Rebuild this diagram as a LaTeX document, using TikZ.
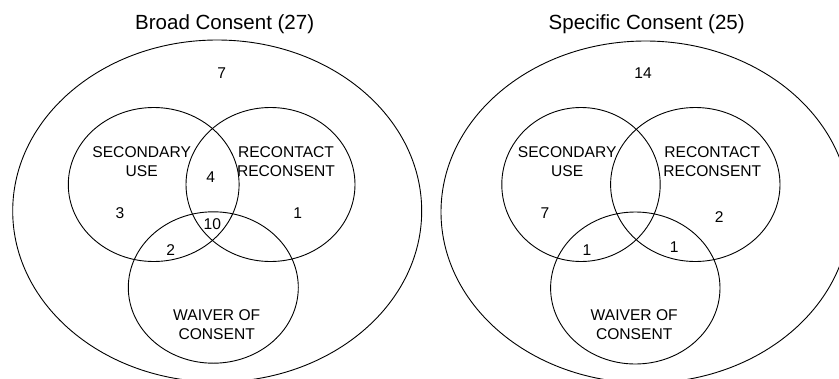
\documentclass[tikz,border=0pt]{standalone}
\usepackage{fontspec}
\setmainfont{Liberation Sans}
\usetikzlibrary{positioning, calc}

\begin{document}
\begin{tikzpicture}[x=1pt, y=-1pt, line width=0.9pt,
            title/.style={font=\fontsize{20.5}{24}\selectfont, anchor=base},
            setlabel/.style={font=\fontsize{15.6}{18.3}\selectfont, align=center, inner sep=0pt},
            count/.style={font=\fontsize{15.6}{18.3}\selectfont, inner sep=0pt}]

            \clip (0,0) rectangle (839,378);

            % broad consent
            \node[title] (tBroad) at (224.7,29.3) {Broad Consent (27)};
            \draw (217.2,211) ellipse [x radius=204.5pt, y radius=171pt];
            \draw (153.7,184.5) ellipse [x radius=85.4pt, y radius=77pt];
            \draw (270.5,184.5) ellipse [x radius=84.5pt, y radius=77pt];
            \draw (213.3,287.5) ellipse [x radius=85pt, y radius=75.7pt];

            \node[setlabel] (secB) at (141.7,161.7) {SECONDARY\\USE};
            \node[setlabel] (recB) at (286,161.7) {RECONTACT\\RECONSENT};
            \node[setlabel] (waiB) at (216.7,324.7) {WAIVER OF\\CONSENT};

            \node[count] (nB0) at (221.7,72.7) {7};
            \node[count] (nB1) at (120,213) {3};
            \node[count] (nB2) at (297.7,213) {1};
            \node[count] (nB3) at (210.7,177.5) {4};
            \node[count] (nB4) at (212.3,224) {10};
            \node[count] (nB5) at (170.7,250) {2};

            % specific consent
            \node[title] (tSpec) at (646.7,29.3) {Specific Consent (25)};
            \draw (645.5,212) ellipse [x radius=204.5pt, y radius=171pt];
            \draw (581,184.5) ellipse [x radius=79.2pt, y radius=77pt];
            \draw (695.3,184.5) ellipse [x radius=84.7pt, y radius=77pt];
            \draw (635.3,288) ellipse [x radius=84.7pt, y radius=76pt];

            \node[setlabel] (secS) at (567.2,161.7) {SECONDARY\\USE};
            \node[setlabel] (recS) at (712.3,161.7) {RECONTACT\\RECONSENT};
            \node[setlabel] (waiS) at (634.2,324.7) {WAIVER OF\\CONSENT};

            \node[count] (nS0) at (643,72.7) {14};
            \node[count] (nS1) at (545,213.3) {7};
            \node[count] (nS2) at (719.3,216.7) {2};
            \node[count] (nS3) at (587,250) {1};
            \node[count] (nS4) at (674.3,247.3) {1};
\end{tikzpicture}
\end{document}
